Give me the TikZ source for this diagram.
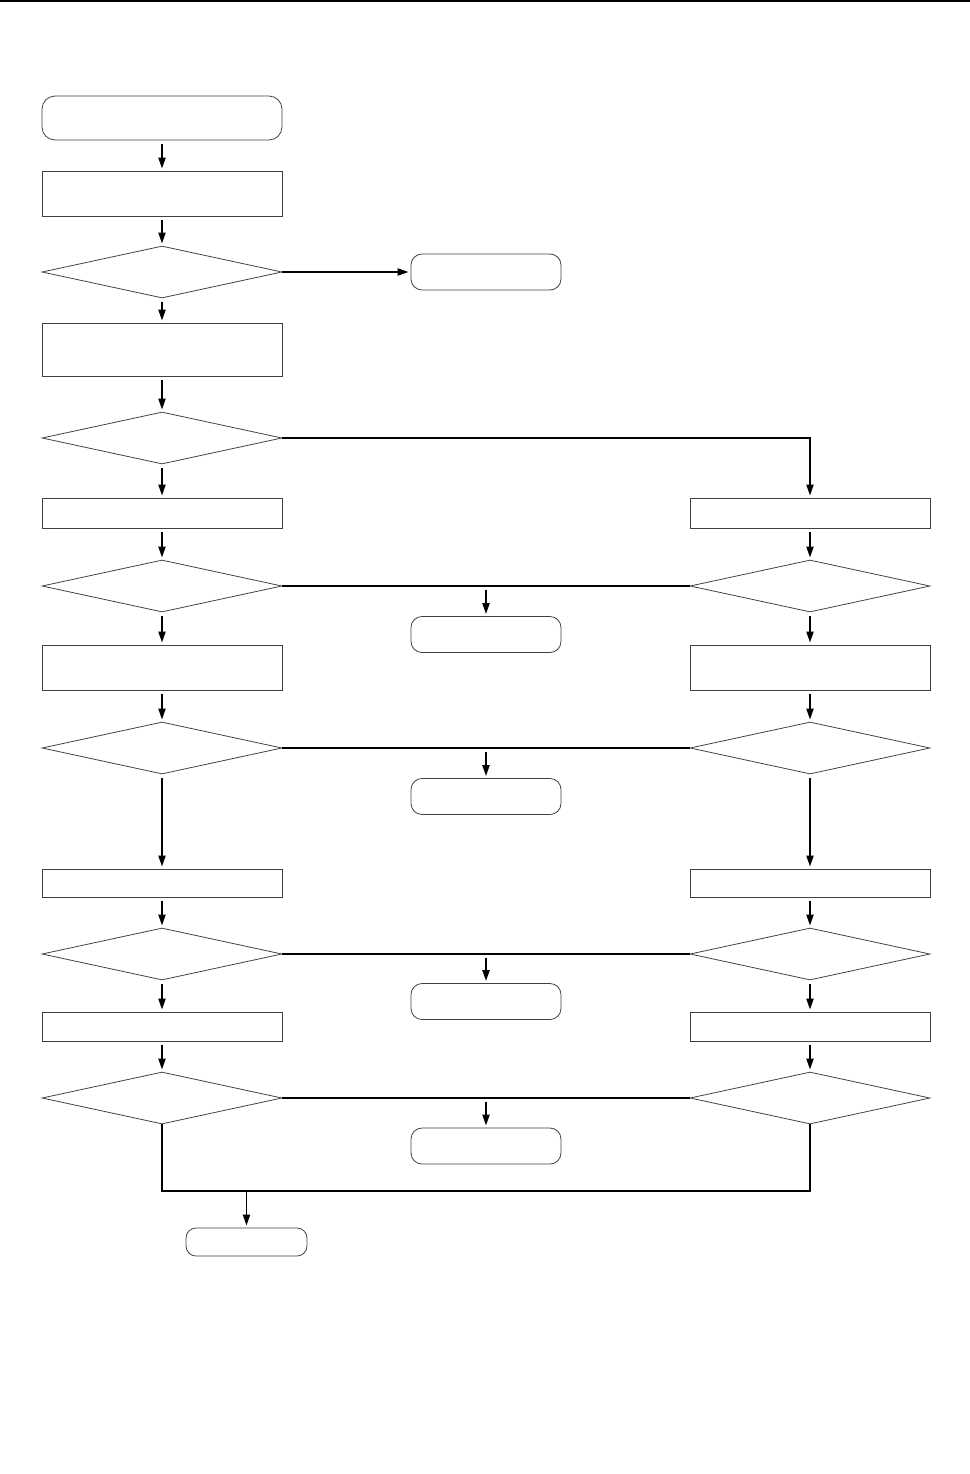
\documentclass[tikz,border=0pt]{standalone}
\usetikzlibrary{arrows.meta,shapes.geometric}
\begin{document}
\begin{tikzpicture}[x=0.02cm,y=-0.02cm,>={Triangle[length=.22cm,width=.14cm]},
  proc/.style={draw=black!75,rectangle,minimum width=4.8cm,inner sep=0pt,line width=.45pt},
  test/.style={draw=black!75,diamond,minimum width=4.8cm,minimum height=1.04cm,inner sep=0pt,line width=.45pt},
  term/.style={draw=black!75,rectangle,rounded corners=.22cm,minimum width=3cm,minimum height=.72cm,inner sep=0pt,line width=.45pt},
  flow/.style={->,line width=1.1pt,shorten <=.08cm,shorten >=.04cm},
  link/.style={line width=1.1pt}]
\useasboundingbox (0,0) rectangle (970,1474);
\draw[line width=1.2pt] (0,1.2) -- (970,1.2);
\node[term,minimum width=4.8cm,minimum height=.88cm,rounded corners=.26cm] (start) at (162,118) {};
\node[proc,minimum height=.9cm] (l0) at (162,193.5) {};
\node[test] (t1) at (162,272) {};
\node[term] (e1) at (486,272) {};
\node[proc,minimum height=1.06cm] (l1) at (162,349.5) {};
\node[test] (t2) at (162,438) {};
\node[proc,minimum height=.6cm] (la) at (162,513) {};
\node[proc,minimum height=.6cm] (ra) at (810,513) {};
\node[test] (tl3) at (162,586) {};
\node[test] (tr3) at (810,586) {};
\node[term] (e2) at (486,634.5) {};
\node[proc,minimum height=.9cm] (lb) at (162,667.5) {};
\node[proc,minimum height=.9cm] (rb) at (810,667.5) {};
\node[test] (tl4) at (162,748) {};
\node[test] (tr4) at (810,748) {};
\node[term] (e3) at (486,796.5) {};
\node[proc,minimum height=.56cm] (lc) at (162,883) {};
\node[proc,minimum height=.56cm] (rc) at (810,883) {};
\node[test] (tl5) at (162,954) {};
\node[test] (tr5) at (810,954) {};
\node[term] (e4) at (486,1001.5) {};
\node[proc,minimum height=.58cm] (ld) at (162,1026.5) {};
\node[proc,minimum height=.58cm] (rd) at (810,1026.5) {};
\node[test] (tl6) at (162,1098) {};
\node[test] (tr6) at (810,1098) {};
\node[term] (e5) at (486,1146) {};
\node[term,minimum width=2.42cm,minimum height=.56cm,rounded corners=.2cm] (stop) at (246.5,1242) {};
\coordinate (join) at (162,1191);
\draw[flow] (start) -- (l0);
\draw[flow] (l0) -- (t1);
\draw[flow,shorten <=0pt] (t1) -- (e1);
\draw[flow] (t1) -- (l1);
\draw[flow] (l1) -- (t2);
\draw[flow] (t2) -- (la);
\draw[flow,shorten <=0pt] (t2.east) -| (ra.north);
\draw[flow] (la) -- (tl3);
\draw[flow] (ra) -- (tr3);
\draw[link] (tl3.east) -- (tr3.west);
\draw[flow] (e2.north |- tl3) -- (e2);
\draw[flow] (tl3) -- (lb);
\draw[flow] (tr3) -- (rb);
\draw[flow] (lb) -- (tl4);
\draw[flow] (rb) -- (tr4);
\draw[link] (tl4.east) -- (tr4.west);
\draw[flow] (e3.north |- tl4) -- (e3);
\draw[flow] (tl4) -- (lc);
\draw[flow] (tr4) -- (rc);
\draw[flow] (lc) -- (tl5);
\draw[flow] (rc) -- (tr5);
\draw[link] (tl5.east) -- (tr5.west);
\draw[flow] (e4.north |- tl5) -- (e4);
\draw[flow] (tl5) -- (ld);
\draw[flow] (tr5) -- (rd);
\draw[flow] (ld) -- (tl6);
\draw[flow] (rd) -- (tr6);
\draw[link] (tl6.east) -- (tr6.west);
\draw[flow] (e5.north |- tl6) -- (e5);
\draw[link] (tl6.south) -- (join) -| (tr6.south);
\draw[flow,shorten <=0pt] (join -| stop) -- (stop);
\end{tikzpicture}
\end{document}
